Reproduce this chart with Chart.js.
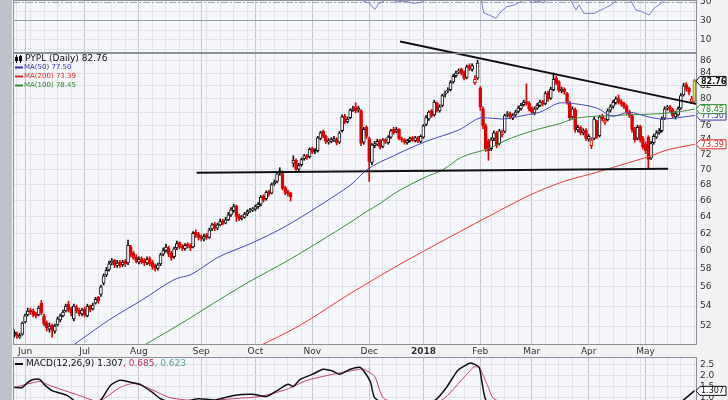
<!DOCTYPE html>
<html>
<head>
<meta charset="utf-8">
<title>PYPL Daily</title>
<script src="https://cdn.jsdelivr.net/npm/chart.js@4.4.1/dist/chart.umd.min.js"></script>
<style>
  html, body { margin: 0; padding: 0; background: #f3f3f3; }
  #wrap { position: relative; width: 728px; height: 400px; overflow: hidden; background: #f3f3f3; }
  #frame { position: absolute; left: 0; top: 0; width: 12px; height: 400px; background: #bfc2ca; }
  canvas { position: absolute; left: 0; }
</style>
</head>
<body>
<div id="wrap">
  <div id="frame"></div>
  <canvas id="rsi" width="728" height="53" style="top:0"></canvas>
  <canvas id="macd" width="728" height="80" style="top:357px"></canvas>
  <canvas id="price" width="728" height="357" style="top:0"></canvas>
</div>
<script>
// x axis: trading day index (0 = late May 2017, 251 = last bar)
const monthLabels = ['Jun', 'Jul', 'Aug', 'Sep', 'Oct', 'Nov', 'Dec', '2018', 'Feb', 'Mar', 'Apr', 'May'];
const monthStarts = [4, 26, 46, 69, 89, 110, 131, 151, 172, 191, 212, 233];

const priceTicks = [52, 54, 56, 58, 60, 62, 64, 66, 68, 70, 72, 74, 76, 78, 80, 82, 84, 86];
const rsiTicks = [0, 10, 20, 30, 40, 50];
const macdTicks = [0, 0.5, 1.0, 1.5, 2.0, 2.5];

// daily candles
const opens = [
  51.4,51.2,50.9,51.2,52.4,53.1,53.6,53.5,53.2,53.1,54.3,53.0,
  52.3,51.7,52.1,51.5,52.1,52.6,53.0,53.5,54.2,53.7,52.7,53.9,
  53.6,53.2,53.7,53.0,54.0,53.7,54.3,54.9,55.2,56.4,57.3,57.9,
  58.6,58.9,58.3,58.7,58.4,58.8,58.6,60.4,59.7,59.3,58.7,59.1,
  58.9,58.6,59.1,58.7,58.3,58.0,58.5,59.6,60.0,60.3,59.7,59.3,
  60.3,60.9,60.5,60.2,60.7,60.6,60.4,62.1,61.9,61.6,61.3,61.8,
  61.5,62.5,63.1,62.6,63.0,63.5,63.2,63.6,64.2,64.7,65.3,64.1,
  63.8,63.9,64.3,64.7,64.8,64.9,65.2,65.5,66.5,66.2,67.1,66.9,
  68.1,68.4,69.5,69.6,67.6,67.1,66.9,70.8,71.2,70.0,70.6,71.4,
  71.8,71.7,72.8,72.6,72.5,74.2,75.2,74.5,73.7,73.8,74.0,74.1,
  73.7,75.3,77.4,76.6,77.2,78.4,78.8,78.3,78.2,73.7,75.8,74.2,
  70.9,73.2,73.4,73.9,73.1,74.0,73.6,74.4,75.5,75.2,75.5,74.2,
  74.0,73.6,73.9,74.3,73.9,74.3,73.8,74.4,76.2,77.0,78.2,77.6,
  79.3,78.2,79.0,80.7,81.2,81.4,82.6,83.6,84.2,84.6,84.1,83.3,
  85.2,84.6,82.5,83.2,81.6,78.5,76.0,73.8,72.8,74.2,75.0,73.5,
  74.7,75.2,77.6,77.8,77.1,77.6,78.1,78.5,79.1,79.6,79.4,78.6,
  77.9,78.6,79.0,79.6,79.3,80.9,80.1,81.4,83.2,82.6,81.2,81.5,
  80.8,79.4,77.3,78.4,75.4,75.8,75.0,75.4,74.1,73.2,74.2,76.6,
  74.6,77.4,76.5,76.9,78.3,78.9,79.4,80.1,79.6,79.3,78.9,78.1,
  77.5,75.6,74.2,75.9,74.2,73.4,74.4,71.5,73.6,74.4,75.0,75.3,
  77.1,78.6,78.8,78.4,77.3,77.6,78.6,80.6,82.2,81.6,79.6,79.6
];
const highs = [
  51.6,51.4,51.3,52.4,53.2,53.8,53.8,53.7,53.4,54.0,54.6,53.2,
  52.5,52.3,52.2,52.2,52.9,53.2,53.6,54.2,54.5,53.9,54.2,54.1,
  53.8,53.8,53.9,54.2,54.1,54.3,54.9,55.0,56.2,57.4,58.1,58.8,
  59.1,59.0,58.9,58.9,58.9,59.0,61.2,60.6,59.9,59.5,59.3,59.3,
  59.1,59.3,59.3,58.9,58.5,58.6,59.7,60.3,60.7,60.5,59.9,60.4,
  61.1,61.0,60.7,60.8,60.9,60.8,62.2,62.4,62.1,61.8,61.9,62.0,
  62.6,63.2,63.3,63.2,63.7,63.7,63.9,64.5,65.1,65.5,65.4,64.3,
  64.1,64.5,64.8,65.0,65.1,65.4,65.7,66.6,66.7,67.2,67.3,68.2,
  68.6,69.6,70.2,69.8,67.8,67.3,67.0,71.8,71.4,70.8,71.5,72.0,
  72.0,72.9,73.0,72.8,74.5,75.2,75.4,74.7,74.2,74.3,74.5,74.3,
  75.2,77.6,77.7,77.3,78.5,78.9,79.4,78.9,78.4,75.8,76.0,74.4,
  73.5,73.8,74.1,74.1,74.2,74.2,74.6,75.5,75.8,75.8,75.6,74.4,
  74.2,74.1,74.4,74.5,74.5,74.5,74.7,76.2,77.5,78.2,78.4,79.8,
  79.5,79.1,80.7,81.2,81.7,82.8,83.8,84.3,84.7,84.8,84.3,85.3,
  85.5,85.5,83.6,86.1,81.9,78.8,76.3,74.1,74.3,75.3,75.2,75.5,
  75.4,77.7,78.1,78.0,77.8,78.3,78.9,79.3,79.8,82.3,79.6,78.8,
  78.8,79.3,79.8,79.8,81.1,81.2,81.8,84.0,83.5,82.8,81.8,81.7,
  81.0,79.6,78.8,78.6,76.1,76.0,75.6,75.6,74.8,74.3,77.3,76.8,
  77.5,77.7,77.1,78.5,79.1,79.8,80.3,80.6,79.9,79.5,79.1,78.3,
  77.7,75.8,76.1,76.1,74.5,73.7,74.6,73.8,74.8,75.3,75.6,77.3,
  78.8,79.0,79.0,78.6,78.1,78.8,80.8,82.4,82.5,81.8,80.4,83.0
];
const lows = [
  50.9,50.8,50.8,51.1,52.3,53.0,53.2,52.9,52.8,53.0,53.1,52.0,
  51.5,51.4,50.9,51.3,52.0,52.4,52.9,53.4,53.4,53.0,52.5,53.3,
  53.0,53.0,52.9,52.9,53.4,53.6,54.2,54.3,55.0,56.2,57.1,57.7,
  58.4,58.1,58.1,58.1,58.2,58.2,58.4,59.3,59.0,58.6,58.5,58.5,
  58.3,58.4,58.3,57.9,57.7,57.8,58.3,59.4,59.8,59.3,58.9,59.1,
  60.1,60.2,60.0,60.0,60.3,60.0,60.3,61.5,61.2,61.1,61.1,61.3,
  61.4,62.3,62.3,62.4,62.9,63.0,63.1,63.5,64.0,64.5,63.4,63.5,
  63.6,63.8,64.1,64.5,64.6,64.7,65.0,65.3,65.8,66.0,66.5,66.8,
  67.9,68.2,69.2,67.3,66.7,66.5,65.9,70.3,69.6,69.8,70.4,71.2,
  71.3,71.5,72.1,72.1,72.3,74.0,74.3,73.5,73.4,73.6,73.8,73.3,
  73.5,75.1,76.3,76.4,77.0,78.1,77.9,78.0,73.2,73.4,74.2,68.4,
  70.6,72.9,73.2,72.7,72.9,73.5,73.4,74.2,74.8,75.0,74.0,73.7,
  73.4,73.4,73.7,73.8,73.7,73.6,73.6,74.2,76.0,76.8,77.2,77.4,
  78.0,78.0,78.8,80.3,80.9,81.2,82.4,83.3,83.9,83.7,82.9,83.1,
  84.4,84.3,82.2,83.0,78.3,75.6,72.4,71.2,72.5,73.9,72.9,73.3,
  74.4,75.0,77.3,77.0,76.9,77.4,77.9,78.3,78.9,79.0,78.2,77.7,
  77.6,78.4,78.8,78.9,79.1,79.6,79.9,81.2,82.2,81.0,80.9,80.7,
  79.2,76.8,77.0,75.1,75.1,74.7,74.7,73.9,73.8,72.8,74.0,74.2,
  74.4,76.7,76.2,76.7,78.0,78.6,79.2,79.2,78.9,78.5,77.7,77.2,
  75.1,73.7,74.0,73.7,72.7,72.1,70.2,71.3,73.4,74.2,74.8,75.1,
  76.9,78.3,78.0,77.2,77.0,77.4,78.4,80.4,81.2,80.6,79.3,79.3
];
const closes = [
  51.2,51.0,51.1,52.3,53.0,53.5,53.4,53.1,53.0,53.8,53.3,52.2,
  51.8,52.0,51.6,52.0,52.7,53.0,53.4,54.0,53.6,53.3,54.0,53.5,
  53.2,53.6,53.1,54.0,53.6,54.1,54.7,54.5,56.0,57.2,57.8,58.5,
  58.8,58.4,58.6,58.3,58.7,58.5,60.6,59.6,59.2,58.8,59.0,58.7,
  58.6,59.0,58.5,58.2,58.0,58.4,59.5,60.0,60.4,59.6,59.2,60.2,
  60.8,60.4,60.3,60.6,60.5,60.3,62.0,61.8,61.5,61.4,61.6,61.5,
  62.4,63.0,62.6,63.0,63.4,63.2,63.6,64.2,64.8,65.2,64.0,63.7,
  63.9,64.3,64.6,64.8,64.9,65.2,65.5,66.4,66.0,67.0,66.8,68.0,
  68.3,69.4,69.8,67.5,67.0,66.8,66.4,71.2,70.0,70.5,71.3,71.8,
  71.6,72.7,72.3,72.4,74.3,75.0,74.6,73.8,73.9,74.0,74.2,73.6,
  75.0,77.3,76.6,77.0,78.3,78.5,78.2,78.6,73.5,75.5,74.5,71.0,
  73.3,73.5,73.8,73.0,74.0,73.8,74.4,75.3,75.0,75.5,74.2,74.0,
  73.7,73.9,74.2,74.0,74.3,73.8,74.5,76.0,77.2,78.0,77.5,79.5,
  78.3,78.8,80.5,80.8,81.3,82.5,83.5,84.0,84.3,84.0,83.2,85.0,
  84.7,85.2,83.0,85.6,78.8,76.0,72.8,72.5,74.0,75.0,73.2,75.3,
  75.0,77.5,77.8,77.3,77.5,78.0,78.6,79.0,79.5,79.3,78.5,78.0,
  78.5,79.0,79.5,79.2,80.8,80.0,81.5,83.0,82.5,81.3,81.5,81.0,
  79.5,77.2,78.5,75.5,75.8,75.0,75.3,74.2,74.5,74.0,77.0,74.5,
  77.3,77.0,76.8,78.2,78.8,79.5,80.0,79.5,79.2,78.8,78.0,77.5,
  75.5,74.0,75.8,74.0,73.0,72.5,71.3,73.5,74.5,75.0,75.3,77.0,
  78.5,78.7,78.3,77.5,77.8,78.5,80.5,82.0,81.5,81.0,80.0,82.76
];

// overlays: [day index, value]
const ma50 = [[21,50.0],[35,52.6],[47,54.6],[60,56.9],[65,57.3],[75,59.2],[88,60.9],[100,62.8],[112,65.2],[118,66.5],[125,68.2],[130,69.9],[140,71.8],[152,73.8],[164,75.4],[173,77.2],[180,77.0],[189,77.6],[194,78.0],[202,79.4],[206,79.3],[215,78.6],[221,77.4],[227,78.0],[233,77.4],[239,77.0],[251,77.5]];
const ma100 = [[47,50.0],[65,52.8],[69,53.5],[87,56.6],[100,58.7],[112,60.9],[125,63.5],[130,64.6],[135,65.6],[140,66.8],[152,69.0],[158,69.9],[165,71.6],[175,72.8],[183,74.2],[194,75.6],[202,76.4],[206,77.0],[221,77.5],[239,77.8],[246,78.1],[251,78.45]];
const ma200 = [[90,50.0],[105,52.0],[124,55.3],[142,58.4],[161,61.6],[179,64.7],[190,66.6],[202,68.3],[215,69.6],[227,70.9],[235,71.8],[240,72.5],[251,73.39]];
const resistanceLine = [[142.4,89.2],[252,79.2]];
const supportLine = [[67.3,69.55],[241.3,70.05]];

const rsiLine = [[0,55],[10,62],[20,58],[30,66],[40,68],[50,57],[53,51.5],[56,57],[70,63],[80,65],[90,68],[98,72],[102,53],[104,66],[112,70],[120,62],[127,68],[129,50.5],[131,49],[133,42],[134.5,48],[136.5,51],[138,56],[141,50],[144,51],[147.5,48.6],[151,50],[153,58],[160,72],[166,74],[171,72],[172.3,52],[173.3,38.4],[175.2,36.3],[177.8,32.8],[179.6,39.8],[181.8,45],[184.4,46.8],[187,50.3],[189,56],[191,49],[193,51],[195.5,49],[197,56],[200,63],[204,55],[205.5,51],[207.3,41.6],[208.4,46.8],[210.3,38],[214,38],[216.5,41.6],[220.2,46.8],[222.4,52],[224,55],[227.6,51],[229.4,41.6],[231.6,39.8],[234.3,36.3],[236,43.3],[238.7,48.6],[239.8,52],[243,58],[251,64]];
const macdLine = [[0,1.46],[3,1.46],[5,1.69],[7,1.82],[9.5,1.82],[11,1.6],[14,1.32],[19.5,1.1],[23,0.8],[28,0.6],[32,0.9],[35.5,1.55],[39,1.78],[43,1.69],[46.5,1.6],[51,1.24],[54,0.95],[59,0.75],[68,0.95],[74,0.9],[81,1.1],[88,1.15],[93,1.05],[97,1.32],[101,1.6],[103,1.5],[105.5,1.82],[110,2.05],[114,2.28],[117.5,2.2],[120,2.05],[124,2.28],[127.5,2.37],[129,2.2],[131.5,1.69],[133,1.0],[139,0.6],[150,0.6],[155.5,0.9],[159.5,1.46],[163.5,2.2],[166,2.42],[168.5,2.56],[171.5,2.37],[172.5,1.78],[174,0.9],[180,0.2],[200,0.5],[210,0.1],[230,-0.2],[240,0.1],[247,0.9],[251,1.307]];
const signalLine = [[0,1.46],[9.5,1.73],[13,1.55],[24,1.1],[30,0.85],[33,0.95],[39,1.46],[44,1.64],[49,1.46],[57.5,1.0],[68.5,0.85],[80.5,0.95],[90.5,1.05],[100.5,1.37],[108,1.78],[117.5,2.05],[127.5,2.28],[129,2.28],[133,1.96],[136.5,0.95],[150,0.6],[158.5,0.95],[165,1.78],[169.5,2.37],[171.5,2.37],[174.5,1.6],[177,0.95],[190,0.4],[210,0.3],[230,0.1],[245,0.4],[251,0.685]];

const lastPrice = 82.76, lastMa50 = 77.50, lastMa200 = 73.39, lastMa100 = 78.45;
const lastMacd = 1.307, lastSignal = 0.685, lastHist = 0.623;

const FONT = "'DejaVu Sans', Verdana, sans-serif";
const RED = '#e00000', BLK = '#111111';
const pts = arr => arr.map(p => ({ x: p[0], y: p[1] }));

// weekly grid lines between the month lines
const weekly = [];
for (let d = 1; d < 252; d += 5) {
  if (monthStarts.every(m => Math.abs(m - d) > 1)) weekly.push(d);
}
const gridDays = monthStarts.concat(weekly).sort((a, b) => a - b);

function xAxis(withLabels) {
  return {
    type: 'linear', min: -0.45, max: 251.96, bounds: 'data', offset: false,
    afterBuildTicks: s => { s.ticks = gridDays.map(v => ({ value: v })); },
    afterFit: s => { s.height = withLabels ? 12 : 0; s.paddingLeft = 0; s.paddingRight = 0; },
    grid: { offset: false, drawTicks: false,
      color: c => monthStarts.includes(c.tick && c.tick.value) ? '#c6c7d1' : '#e2e3eb' },
    border: { display: false },
    ticks: {
      display: withLabels, autoSkip: false, maxRotation: 0, padding: 1, color: '#333',
      font: c => ({ family: FONT, size: 9, weight: c.tick && c.tick.value === 151 ? 'bold' : 'normal' }),
      callback: v => { const k = monthStarts.indexOf(v); return k < 0 ? '' : monthLabels[k]; }
    }
  };
}

function yAxis(type, min, max, tickList, gridColor, fmt) {
  return {
    type: type, position: 'right', min: min, max: max, bounds: 'data',
    afterBuildTicks: s => { s.ticks = tickList.map(v => ({ value: v })); },
    afterFit: s => { s.width = 31; s.paddingTop = 0; s.paddingBottom = 0; },
    grid: { drawTicks: false, color: gridColor },
    border: { display: false },
    ticks: { autoSkip: false, padding: 3, color: '#333', font: { family: FONT, size: 9 }, callback: fmt }
  };
}

const panelBg = {
  id: 'panelBg',
  beforeDraw(chart) {
    const { ctx, chartArea: a } = chart;
    ctx.save();
    ctx.fillStyle = '#f6f7fb';
    ctx.fillRect(a.left, a.top, a.right - a.left, a.bottom - a.top);
    ctx.restore();
  },
  afterDraw(chart) {
    const { ctx, chartArea: a } = chart;
    ctx.save();
    ctx.strokeStyle = '#8e9099';
    ctx.lineWidth = 1;
    ctx.strokeRect(a.left + 0.5, a.top + 0.5, a.right - a.left - 1, a.bottom - a.top - 1);
    ctx.restore();
  }
};

function tagBox(ctx, x, y, text, color, bold) {
  const w = 26, h = 9;
  ctx.save();
  ctx.beginPath();
  ctx.moveTo(x, y);
  ctx.lineTo(x + 4, y - h / 2);
  ctx.lineTo(x + 4 + w, y - h / 2);
  ctx.lineTo(x + 4 + w, y + h / 2);
  ctx.lineTo(x + 4, y + h / 2);
  ctx.closePath();
  ctx.fillStyle = '#ffffff';
  ctx.fill();
  ctx.strokeStyle = color;
  ctx.lineWidth = 1;
  ctx.stroke();
  ctx.font = (bold ? 'bold ' : '') + '8px ' + FONT;
  ctx.fillStyle = color;
  ctx.textAlign = 'left';
  ctx.textBaseline = 'middle';
  ctx.fillText(text, x + 5, y + 0.5);
  ctx.restore();
}

// ---------- RSI strip (only its lower part is in view) ----------
new Chart(document.getElementById('rsi'), {
  type: 'line',
  data: { datasets: [{ data: pts(rsiLine), borderColor: '#7b7fc8', borderWidth: 1, pointRadius: 0, tension: 0 }] },
  options: {
    responsive: false, animation: false, events: [],
    layout: { padding: { left: 13, top: 0, right: 0, bottom: 0 } },
    plugins: { legend: { display: false }, tooltip: { enabled: false } },
    scales: {
      x: xAxis(false),
      y: yAxis('linear', -3.7, 52.1, rsiTicks,
        c => c.tick.value === 30 ? '#9a9ca6' : (c.tick.value === 50 ? 'rgba(0,0,0,0)' : '#e2e3eb'),
        v => (v === 10 || v === 30 || v === 50) ? String(v) : '')
    }
  },
  plugins: [panelBg, {
    id: 'midLine',
    beforeDatasetsDraw(chart) {
      const { ctx, chartArea: a, scales } = chart;
      const y = Math.round(scales.y.getPixelForValue(50)) + 0.5;
      ctx.save();
      ctx.strokeStyle = '#a4a6b0';
      ctx.setLineDash([7, 2, 2, 2]);
      ctx.beginPath();
      ctx.moveTo(a.left, y);
      ctx.lineTo(a.right, y);
      ctx.stroke();
      ctx.restore();
    }
  }]
});

// ---------- price panel ----------
const candleColor = closes.map((c, i) => i === closes.length - 1 ? '#7a7a20' : (i > 0 && c < closes[i - 1] ? RED : BLK));
const bodyFill = closes.map((c, i) => i === closes.length - 1 ? '#e8e25c' : (c < opens[i] ? candleColor[i] : '#ffffff'));

new Chart(document.getElementById('price'), {
  type: 'bar',
  data: {
    datasets: [
      { type: 'line', data: pts(resistanceLine), borderColor: '#111', borderWidth: 2, pointRadius: 0, clip: false, order: 0 },
      { type: 'line', data: pts(supportLine), borderColor: '#111', borderWidth: 2, pointRadius: 0, order: 0 },
      { type: 'line', data: pts(ma50), borderColor: '#4a4ab6', borderWidth: 1, pointRadius: 0, cubicInterpolationMode: 'monotone', order: 1 },
      { type: 'line', data: pts(ma100), borderColor: '#3a903a', borderWidth: 1, pointRadius: 0, cubicInterpolationMode: 'monotone', order: 1 },
      { type: 'line', data: pts(ma200), borderColor: '#e63c3c', borderWidth: 1, pointRadius: 0, cubicInterpolationMode: 'monotone', order: 1 },
      { data: closes.map((c, i) => ({ x: i, y: [opens[i], c] })), backgroundColor: bodyFill, borderColor: candleColor,
        borderWidth: 1, borderSkipped: false, barThickness: 3, minBarLength: 1, grouped: false, order: 2 },
      { data: closes.map((c, i) => ({ x: i, y: [lows[i], highs[i]] })), backgroundColor: candleColor,
        borderWidth: 0, barThickness: 1, grouped: false, order: 3 }
    ]
  },
  options: {
    responsive: false, animation: false, events: [],
    layout: { padding: { left: 13, top: 53, right: 0, bottom: 0 } },
    plugins: { legend: { display: false }, tooltip: { enabled: false } },
    scales: {
      x: xAxis(true),
      y: yAxis('logarithmic', 50.16, 87.26, priceTicks, '#e0e1e9', v => String(v))
    }
  },
  plugins: [panelBg, {
    id: 'priceLabels',
    afterDraw(chart) {
      const { ctx, chartArea: a, scales } = chart;
      ctx.save();
      // title with a small candle glyph
      ctx.fillStyle = '#111';
      ctx.fillRect(16, 55, 1, 8); ctx.fillRect(15, 57, 3, 4);
      ctx.fillRect(20, 55, 1, 8); ctx.strokeStyle = '#111'; ctx.strokeRect(19.5, 56.5, 2, 4);
      ctx.font = '9px ' + FONT;
      ctx.textBaseline = 'middle';
      ctx.fillText('PYPL (Daily) ' + lastPrice.toFixed(2), 25, 59);
      const rows = [['MA(50) ' + lastMa50.toFixed(2), '#3434a8'],
                    ['MA(200) ' + lastMa200.toFixed(2), '#e02828'],
                    ['MA(100) ' + lastMa100.toFixed(2), '#2a8a2a']];
      ctx.font = '7px ' + FONT;
      rows.forEach((r, k) => {
        const y = 67.5 + k * 9;
        ctx.fillStyle = r[1];
        ctx.fillRect(15, y - 1, 8, 2);
        ctx.fillText(r[0], 24, y);
      });
      ctx.restore();
      const y = scales.y;
      tagBox(ctx, a.right - 1, y.getPixelForValue(lastMa200), lastMa200.toFixed(2), '#e02828', false);
      tagBox(ctx, a.right - 1, y.getPixelForValue(lastMa50), lastMa50.toFixed(2), '#3434a8', false);
      tagBox(ctx, a.right - 1, y.getPixelForValue(lastMa100), lastMa100.toFixed(2), '#2a8a2a', false);
      tagBox(ctx, a.right - 1, y.getPixelForValue(lastPrice), lastPrice.toFixed(2), '#111', true);
    }
  }]
});

// ---------- MACD panel (top part in view) ----------
new Chart(document.getElementById('macd'), {
  type: 'line',
  data: {
    datasets: [
      { data: pts(macdLine), borderColor: '#111', borderWidth: 1.5, pointRadius: 0, tension: 0.2 },
      { data: pts(signalLine), borderColor: '#c2456e', borderWidth: 1, pointRadius: 0, tension: 0.2 }
    ]
  },
  options: {
    responsive: false, animation: false, events: [],
    layout: { padding: { left: 13, top: 0, right: 0, bottom: 0 } },
    plugins: { legend: { display: false }, tooltip: { enabled: false } },
    scales: {
      x: xAxis(false),
      y: yAxis('linear', -0.77, 2.83, macdTicks, '#e0e1e9', v => v.toFixed(1))
    }
  },
  plugins: [panelBg, {
    id: 'macdLabels',
    afterDraw(chart) {
      const { ctx, chartArea: a, scales } = chart;
      ctx.save();
      ctx.fillStyle = '#111';
      ctx.fillRect(15, 6, 8, 2);
      ctx.font = '9px ' + FONT;
      ctx.textBaseline = 'middle';
      let x = 26;
      const parts = [['MACD(12,26,9) ' + lastMacd.toFixed(3), '#111'],
                     [', ' + lastSignal.toFixed(3), '#b8305c'],
                     [', ' + lastHist.toFixed(3), '#5fa89a']];
      parts.forEach(p => {
        ctx.fillStyle = p[1];
        ctx.fillText(p[0], x, 7);
        x += ctx.measureText(p[0]).width;
      });
      ctx.restore();
      tagBox(ctx, a.right - 1, scales.y.getPixelForValue(lastMacd), lastMacd.toFixed(3), '#111', false);
    }
  }]
});
</script>
</body>
</html>
